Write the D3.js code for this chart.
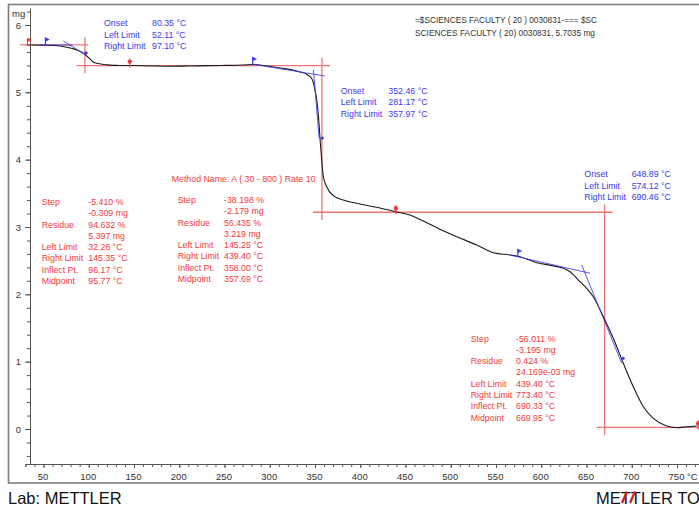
<!DOCTYPE html>
<html>
<head>
<meta charset="utf-8">
<script src="https://cdn.jsdelivr.net/npm/d3@7"></script>
<style>
  html, body { margin: 0; padding: 0; background: #fff; }
  svg { display: block; font-family: "Liberation Sans", Arial, sans-serif; }
</style>
</head>
<body>
<script>
// TGA mass-loss curve: temperature (°C) and sample mass (mg)
const temperature = [32.3, 40, 50, 60, 65, 70, 76, 82, 87, 91, 94, 97, 99, 102, 104.7, 110, 115, 121, 130,
  150, 170, 190, 210, 230, 250, 270, 281.4, 296.9, 311.3, 325.7, 333.4, 341.2, 346.7, 350, 352.2, 353.9,
  355.5, 357.4, 359.2, 362.9, 370.2, 381.3, 399.7, 418.2, 439.2, 455, 469.7, 488.1, 506.6, 528.7, 547,
  565.5, 576.5, 595, 610, 624.4, 631.8, 642.8, 650.2, 657.5, 668.6, 679.6, 690.7, 701.7, 712.8, 723.8,
  738.6, 749.7, 760.7, 771.8];
const mass = [5.7035, 5.703, 5.700, 5.696, 5.692, 5.684, 5.669, 5.650, 5.629, 5.605, 5.580, 5.550, 5.525, 5.488, 5.451, 5.428, 5.418, 5.408, 5.400,
  5.398, 5.392, 5.388, 5.390, 5.397, 5.400, 5.405, 5.414, 5.391, 5.361, 5.332, 5.302, 5.265, 5.198, 5.035, 4.857, 4.634,
  4.322, 3.995, 3.747, 3.599, 3.465, 3.401, 3.342, 3.293, 3.227, 3.178, 3.089, 2.966, 2.856, 2.733, 2.618,
  2.584, 2.559, 2.470, 2.430, 2.387, 2.336, 2.188, 2.090, 1.965, 1.668, 1.347, 0.976, 0.628, 0.331, 0.159,
  0.045, 0.019, 0.034, 0.045];

// Axis ticks
const xTickLabels = [50, 100, 150, 200, 250, 300, 350, 400, 450, 500, 550, 600, 650, 700, 750];
const yTickLabels = [0, 1, 2, 3, 4, 5, 6];

// Step evaluation results
const stepLevels = [5.7035, 5.397, 3.219, 0.024];        // mass before / after each step (mg)
const stepMidpoints = [95.77, 357.69, 669.95];          // °C
const stepLeftLimits = [32.26, 145.25, 439.40];
const stepRightLimits = [145.35, 439.40, 773.40];

// Onset evaluations
const onsetLeftLimits = [52.11, 281.17, 574.12];
const onsetLeftMass = [5.702, 5.414, 2.562];
const onsetRightLimits = [97.10, 357.97, 690.46];
const onsetRightMass = [5.585, 4.32, 1.05];
// tangents: [T1, m1, T2, m2]
const baselineTangents = [[46, 5.7035, 82, 5.7035], [281.5, 5.417, 360.8, 5.243], [565.5, 2.584, 654, 2.313]];
const slopeTangents = [[71.8, 5.763, 96.9, 5.555], [348.3, 5.332, 354.6, 4.317], [644.7, 2.436, 688.9, 0.976]];

// Text blocks
const onsetLabels = ["Onset", "Left Limit", "Right Limit"];
const onsetValues = [
  ["80.35 °C", "52.11 °C", "97.10 °C"],
  ["352.46 °C", "281.17 °C", "357.97 °C"],
  ["648.89 °C", "574.12 °C", "690.46 °C"]
];
const stepLabels = ["Step", "", "Residue", "", "Left Limit", "Right Limit", "Inflect Pt.", "Midpoint"];
const stepValues = [
  ["-5.410 %", "-0.309 mg", "94.632 %", "5.397 mg", "32.26 °C", "145.35 °C", "96.17 °C", "95.77 °C"],
  ["-38.198 %", "-2.179 mg", "56.435 %", "3.219 mg", "145.25 °C", "439.40 °C", "358.00 °C", "357.69 °C"],
  ["-56.011 %", "-3.195 mg", "0.424 %", "24.169e-03 mg", "439.40 °C", "773.40 °C", "690.33 °C", "669.95 °C"]
];
const methodName = "Method Name: A ( 30 - 800 ) Rate 10";
const headerLines = ["=$SCIENCES FACULTY ( 20 ) 0030831-=== $SC", "SCIENCES FACULTY ( 20) 0030831, 5.7035 mg"];
const labText = "Lab: METTLER";
const brandText = "METTLER TO";

const W = 699, H = 508;
const RED = "#f23a3a", GUIDE = "#f47474", BLUE = "#3a3aee", AXIS = "#555";

const svg = d3.select("body").append("svg").attr("width", W).attr("height", H);

const x = d3.scaleLinear().domain([50, 750]).range([43.5, 677]);
const y = d3.scaleLinear().domain([0, 6]).range([429, 25]);

// frame
svg.append("rect").attr("x", 8.5).attr("y", 4.5).attr("width", 700).attr("height", 478.5)
  .attr("fill", "none").attr("stroke", "#7d7d7d").attr("stroke-width", 1.6);

// x axis
const xAxisScale = x.copy().domain([30, 800]).range([x(30), x(800)]);
const xg = svg.append("g").attr("transform", `translate(0,${y(-0.52)})`);
xg.call(d3.axisBottom(xAxisScale).tickValues(d3.range(30, 800, 10)).tickSize(3).tickFormat(""));
xg.call(g => g.append("g").call(d3.axisBottom(xAxisScale).tickValues(xTickLabels).tickSize(4).tickSizeOuter(0)));
xg.selectAll("path.domain, line").attr("stroke", AXIS);
xg.selectAll("text").attr("font-size", 9.5).attr("fill", "#333").attr("font-family", "Liberation Sans, Arial").attr("dx", -1).attr("dy", "0.95em");
svg.append("text").attr("x", 687).attr("y", y(-0.52) + 15.5).attr("font-size", 9.5).attr("fill", "#333").text("°C");

// y axis
const yAxisScale = y.copy().domain([-0.52, 6.25]).range([y(-0.52), y(6.25)]);
const yg = svg.append("g").attr("transform", "translate(30,0)");
yg.call(d3.axisLeft(yAxisScale).tickValues(d3.range(-0.4, 6.21, 0.2)).tickSize(3).tickSizeOuter(0).tickFormat(""));
yg.call(g => g.append("g").call(d3.axisLeft(yAxisScale).tickValues(yTickLabels).tickSize(5).tickSizeOuter(0).tickFormat(d3.format("d"))));
yg.selectAll("path.domain, line").attr("stroke", AXIS);
yg.selectAll("text").attr("font-size", 9.5).attr("fill", "#333").attr("font-family", "Liberation Sans, Arial").attr("dx", -1);
svg.append("text").attr("x", 12).attr("y", 17).attr("font-size", 9.5).attr("fill", "#333").text("mg");

// step guide lines (levels and midpoints)
const guides = svg.append("g").attr("stroke", GUIDE).attr("stroke-width", 1.3);
const hLines = [
  [stepLeftLimits[0] - 8, stepMidpoints[0] + 3.5, stepLevels[0]],
  [stepMidpoints[0] - 9, stepMidpoints[1] + 9, stepLevels[1]],
  [stepMidpoints[1] - 10, stepMidpoints[2] + 9, stepLevels[2]],
  [stepMidpoints[2] - 9, 800, stepLevels[3]]
];
guides.selectAll("line.h").data(hLines).join("line").attr("class", "h")
  .attr("x1", d => x(d[0])).attr("x2", d => x(d[1])).attr("y1", d => y(d[2])).attr("y2", d => y(d[2]));
guides.selectAll("line.v").data(stepMidpoints).join("line").attr("class", "v")
  .attr("x1", d => x(d)).attr("x2", d => x(d))
  .attr("y1", (d, i) => y(stepLevels[i] + 0.115)).attr("y2", (d, i) => y(stepLevels[i + 1] - 0.115));

// curve
const line = d3.line().x(d => x(d[0])).y(d => y(d[1])).curve(d3.curveMonotoneX);
svg.append("path").datum(temperature.map((t, i) => [t, mass[i]]))
  .attr("d", line).attr("fill", "none").attr("stroke", "#1a1a1a").attr("stroke-width", 1.1);

// onset tangents
const tang = svg.append("g").attr("stroke", BLUE).attr("stroke-width", 1).attr("stroke-opacity", 0.85);
tang.selectAll("line").data(baselineTangents.concat(slopeTangents)).join("line")
  .attr("x1", d => x(d[0])).attr("y1", d => y(d[1])).attr("x2", d => x(d[2])).attr("y2", d => y(d[3]));

// blue flags at onset left limits, dots at right limits
onsetLeftLimits.forEach((t, i) => {
  const px = x(t), py = y(onsetLeftMass[i]);
  svg.append("path").attr("d", `M${px},${py} V${py - 7} L${px + 3},${py - 5.5} L${px},${py - 4}`)
    .attr("stroke", BLUE).attr("stroke-width", 1.2).attr("fill", BLUE);
});
onsetRightLimits.forEach((t, i) => {
  svg.append("circle").attr("cx", x(t)).attr("cy", y(onsetRightMass[i])).attr("r", 1.6).attr("fill", BLUE);
});

// red markers at step limits
svg.append("path").attr("d", () => {
  const px = x(stepLeftLimits[0]), py = y(stepLevels[0]);
  return `M${px},${py + 1} V${py - 6} L${px + 3},${py - 5} L${px},${py - 3.5}`;
}).attr("stroke", RED).attr("stroke-width", 1.2).attr("fill", RED);
stepRightLimits.forEach((t, i) => {
  const px = x(t), py = y(stepLevels[i + 1]);
  svg.append("line").attr("x1", px).attr("x2", px).attr("y1", py + 2).attr("y2", py - 7)
    .attr("stroke", RED).attr("stroke-width", 1.2);
  svg.append("circle").attr("cx", px).attr("cy", py - 4).attr("r", 2.2).attr("fill", RED);
});

// text helpers
const FS = 8.8, LH = 11.3;
function block(x0, xv, yc, labels, values, color) {
  const g = svg.append("g").attr("fill", color).attr("font-size", FS);
  labels.forEach((l, i) => {
    if (l) g.append("text").attr("x", x0).attr("y", yc + i * LH + 3.2).text(l);
    g.append("text").attr("x", xv).attr("y", yc + i * LH + 3.2).text(values[i]);
  });
}
block(104, 152, 23, onsetLabels, onsetValues[0], BLUE);
block(340.7, 388.3, 90.7, onsetLabels, onsetValues[1], BLUE);
block(584.3, 631.7, 174, onsetLabels, onsetValues[2], BLUE);
block(41.7, 88.3, 201.7, stepLabels, stepValues[0], RED);
block(177.7, 224, 199.7, stepLabels, stepValues[1], RED);
block(470.7, 516, 338.3, stepLabels, stepValues[2], RED);

svg.append("text").attr("x", 171.7).attr("y", 181.5).attr("font-size", FS).attr("fill", RED).text(methodName);

svg.selectAll("text.hdr").data(headerLines).join("text").attr("class", "hdr")
  .attr("x", 415).attr("y", (d, i) => 23.2 + i * 12.7).attr("font-size", FS).attr("fill", "#333")
  .attr("textLength", (d, i) => i === 0 ? 182 : 180).attr("lengthAdjust", "spacingAndGlyphs").text(d => d);

// footer
svg.append("text").attr("x", 8).attr("y", 503.5).attr("font-size", 16.5).attr("fill", "#111").text(labText);
svg.append("text").attr("x", 596).attr("y", 503.5).attr("font-size", 16.5).attr("fill", "#111").text(brandText);
svg.append("g").attr("stroke", "#e01818").attr("stroke-width", 2.2)
  .selectAll("line").data([0, 8]).join("line")
  .attr("x1", d => 622 + d).attr("y1", 503).attr("x2", d => 627 + d).attr("y2", 491.5);
</script>
</body>
</html>
